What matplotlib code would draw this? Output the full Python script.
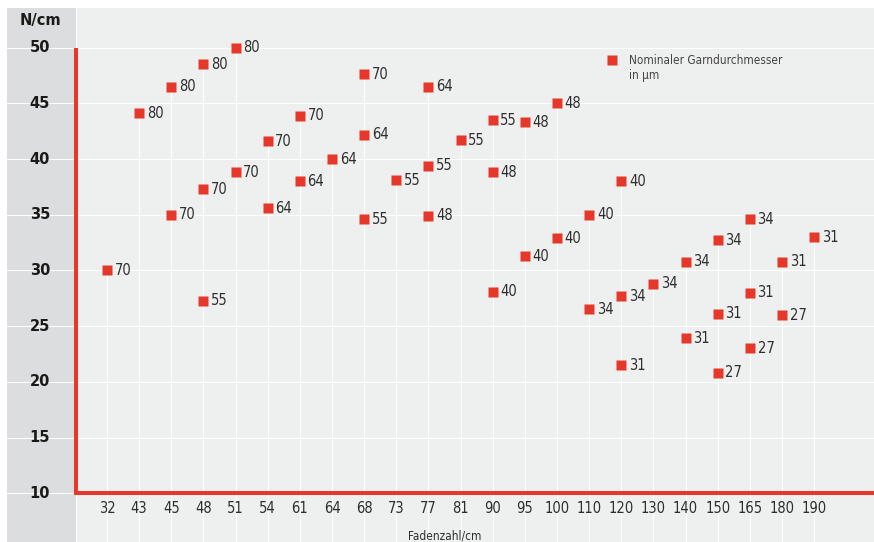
import matplotlib
matplotlib.use("Agg")
import matplotlib.pyplot as plt
import matplotlib.transforms as mtransforms


# Categories on the x axis (threads per cm)
categories = ["32", "43", "45", "48", "51", "54", "61", "64", "68", "73", "77", "81",
              "90", "95", "100", "110", "120", "130", "140", "150", "165", "180", "190"]

# One entry per point: thread count, tensile strength (N/cm), nominal yarn diameter (µm)
point_count = ["32",
               "43",
               "45", "45",
               "48", "48", "48",
               "51", "51",
               "54", "54",
               "61", "61",
               "64",
               "68", "68", "68",
               "73",
               "77", "77", "77",
               "81",
               "90", "90", "90",
               "95", "95",
               "100", "100",
               "110", "110",
               "120", "120", "120",
               "130",
               "140", "140",
               "150", "150", "150",
               "165", "165", "165",
               "180", "180",
               "190"]
point_strength = [30.0,
                  44.1,
                  46.5, 35.0,
                  48.5, 37.3, 27.3,
                  50.0, 38.8,
                  41.6, 35.6,
                  43.9, 38.0,
                  40.0,
                  47.6, 42.2, 34.6,
                  38.1,
                  46.5, 39.4, 34.9,
                  41.7,
                  43.5, 38.8, 28.1,
                  43.3, 31.3,
                  45.0, 32.9,
                  35.0, 26.5,
                  38.0, 27.7, 21.5,
                  28.8,
                  30.8, 23.9,
                  32.7, 26.1, 20.8,
                  34.6, 28.0, 23.0,
                  30.8, 26.0,
                  33.0]
point_diameter = ["70",
                  "80",
                  "80", "70",
                  "80", "70", "55",
                  "80", "70",
                  "70", "64",
                  "70", "64",
                  "64",
                  "70", "64", "55",
                  "55",
                  "64", "55", "48",
                  "55",
                  "55", "48", "40",
                  "48", "40",
                  "48", "40",
                  "40", "34",
                  "40", "34", "31",
                  "34",
                  "34", "31",
                  "34", "31", "27",
                  "34", "31", "27",
                  "31", "27",
                  "31"]

y_ticks = [10, 15, 20, 25, 30, 35, 40, 45, 50]

RED = "#e5382a"
TEXT = "#2e2e2e"
PLOT_BG = "#eeefef"
STRIP_BG = "#dcdddf"

font_cond = dict(family="DejaVu Sans", fontstretch="condensed")

fig = plt.figure(figsize=(8.74, 5.42), dpi=100)
ax = fig.add_axes([7 / 874, 0, 867 / 874, 534 / 542])
ax.set_facecolor(PLOT_BG)
for s in ax.spines.values():
    s.set_visible(False)
ax.set_xticks([])
ax.set_yticks([])

x_left, x_right = -3.11, 23.86
y_bottom, y_top = 5.63, 53.56
ax.set_xlim(x_left, x_right)
ax.set_ylim(y_bottom, y_top)

x_pos = {c: i for i, c in enumerate(categories)}
xs = [x_pos[c] for c in point_count]
axis_x = -0.96

# Grey strip behind the y tick labels
ax.axvspan(x_left, axis_x, color=STRIP_BG, lw=0, zorder=0)
ax.axvline(axis_x, color="white", lw=0.8, zorder=1)

# Horizontal grid lines across everything
for y in y_ticks:
    ax.axhline(y, color="white", lw=0.8, zorder=1)

# White stems from the top point of each category down to the bottom
tops = {}
for c, v in zip(point_count, point_strength):
    tops[c] = max(tops.get(c, v), v)
ax.vlines([x_pos[c] for c in tops], y_bottom, list(tops.values()),
          color="white", lw=0.8, zorder=1)

# Red axis lines
ax.plot([axis_x, axis_x], [y_ticks[0], y_ticks[-1]], color=RED, lw=2.9,
        solid_capstyle="butt", zorder=3)
ax.plot([axis_x, x_right], [y_ticks[0], y_ticks[0]], color=RED, lw=2.9,
        solid_capstyle="projecting", zorder=3)

# Points and their labels
ax.plot(xs, point_strength, ls="none", marker="s", ms=6.6, color=RED,
        mec="none", zorder=4)
for x, v, d in zip(xs, point_strength, point_diameter):
    ax.annotate(d, (x, v), xytext=(5.5, 0), textcoords="offset points",
                ha="left", va="center", fontsize=10.5, color=TEXT, zorder=5,
                **font_cond)

# Tick labels
strip_tf = mtransforms.blended_transform_factory(ax.transAxes, ax.transData)
for y in y_ticks:
    ax.text(0.038, y, str(y), transform=strip_tf, ha="center", va="center",
            fontsize=10.5, fontweight="bold", color="#1a1a1a")
ax.text(0.038, 52.4, "N/cm", transform=strip_tf, ha="center", va="center",
        fontsize=10.5, fontweight="bold", color="#1a1a1a")

for c in categories:
    ax.text(x_pos[c], 8.64, c, ha="center", va="center", fontsize=10.5,
            color=TEXT, **font_cond)

ax.text(10.5, 6.2, "Fadenzahl/cm", ha="center", va="center", fontsize=8.5,
        color=TEXT, **font_cond)

# Legend key, marker level with the first text line
ax.plot([0.6978], [0.9026], transform=ax.transAxes, ls="none", marker="s",
        ms=6.6, color=RED, mec="none", clip_on=False)
ax.text(0.7174, 0.9026, "Nominaler Garndurchmesser", transform=ax.transAxes,
        ha="left", va="center", fontsize=8.5, color="#444444", **font_cond)
ax.text(0.7174, 0.8745, "in µm", transform=ax.transAxes,
        ha="left", va="center", fontsize=8.5, color="#444444", **font_cond)

fig.savefig("out.png", dpi=100)
